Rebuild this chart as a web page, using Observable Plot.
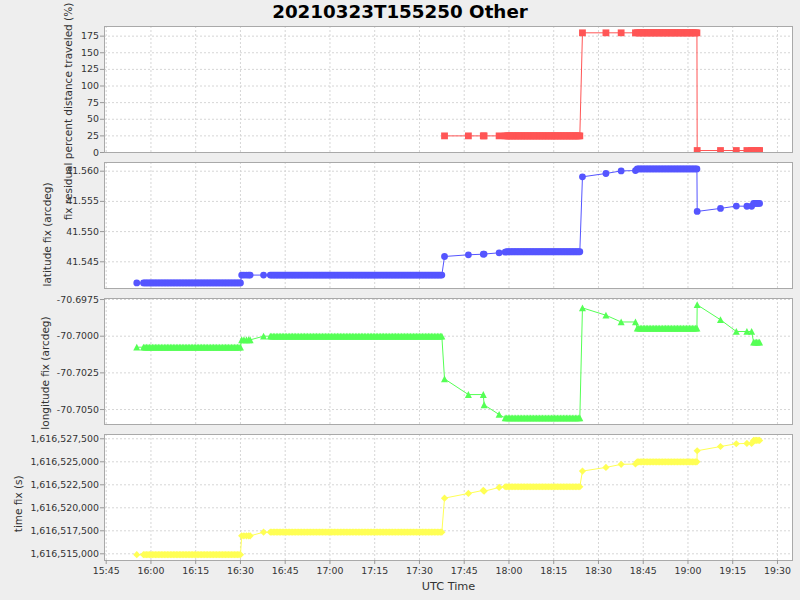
<!DOCTYPE html>
<html><head><meta charset="utf-8">
<script src="https://cdn.jsdelivr.net/npm/d3@7"></script>
<script src="https://cdn.jsdelivr.net/npm/@observablehq/plot@0.6"></script>
<style>
body{margin:0;background:#eeeeee;}
#wrap{position:relative;width:800px;height:600px;background:#eeeeee;overflow:hidden;font-family:"DejaVu Sans";}
#title{position:absolute;left:0;width:800px;top:2px;line-height:20px;text-align:center;font-weight:bold;font-size:18.3px;font-family:"DejaVu Sans";color:#000;}
</style></head><body><div id="wrap"><div id="title">20210323T155250 Other</div></div>
<script>
const day = "2021-03-23";
const times = [
// A
"15:55:15","15:57:30",
"15:58:00","15:58:30","15:59:00","15:59:30","16:00:00","16:00:30","16:01:00","16:01:30","16:02:00","16:02:30",
"16:03:00","16:03:30","16:04:00","16:04:30","16:05:00","16:05:30","16:06:00","16:06:30","16:07:00","16:07:30",
"16:08:00","16:08:30","16:09:00","16:09:30","16:10:00","16:10:30","16:11:00","16:11:30","16:12:00","16:12:30",
"16:13:00","16:13:30","16:14:00","16:14:30","16:15:00","16:15:30","16:16:00","16:16:30","16:17:00","16:17:30",
"16:18:00","16:18:30","16:19:00","16:19:30","16:20:00","16:20:30","16:21:00","16:21:30","16:22:00","16:22:30",
"16:23:00","16:23:30","16:24:00","16:24:30","16:25:00","16:25:30","16:26:00","16:26:30","16:27:00","16:27:30",
"16:28:00","16:28:30","16:29:00","16:29:30","16:30:00",
// B
"16:30:25","16:31:10","16:32:00","16:32:45","16:33:15",
// C
"16:37:45",
"16:40:00","16:40:30","16:41:00","16:41:30","16:42:00","16:42:30","16:43:00","16:43:30","16:44:00","16:44:30",
"16:45:00","16:45:30","16:46:00","16:46:30","16:47:00","16:47:30","16:48:00","16:48:30","16:49:00","16:49:30",
"16:50:00","16:50:30","16:51:00","16:51:30","16:52:00","16:52:30","16:53:00","16:53:30","16:54:00","16:54:30",
"16:55:00","16:55:30","16:56:00","16:56:30","16:57:00","16:57:30","16:58:00","16:58:30","16:59:00","16:59:30",
"17:00:00","17:00:30","17:01:00","17:01:30","17:02:00","17:02:30","17:03:00","17:03:30","17:04:00","17:04:30",
"17:05:00","17:05:30","17:06:00","17:06:30","17:07:00","17:07:30","17:08:00","17:08:30","17:09:00","17:09:30",
"17:10:00","17:10:30","17:11:00","17:11:30","17:12:00","17:12:30","17:13:00","17:13:30","17:14:00","17:14:30",
"17:15:00","17:15:30","17:16:00","17:16:30","17:17:00","17:17:30","17:18:00","17:18:30","17:19:00","17:19:30",
"17:20:00","17:20:30","17:21:00","17:21:30","17:22:00","17:22:30","17:23:00","17:23:30","17:24:00","17:24:30",
"17:25:00","17:25:30","17:26:00","17:26:30","17:27:00","17:27:30","17:28:00","17:28:30","17:29:00","17:29:30",
"17:30:00","17:30:30","17:31:00","17:31:30","17:32:00","17:32:30","17:33:00","17:33:30","17:34:00","17:34:30",
"17:35:00","17:35:30","17:36:00","17:36:30","17:37:00","17:37:30",
// singles 1
"17:38:24","17:46:24","17:51:24","17:51:40","17:56:42",
// D
"17:58:44",
"17:59:15","17:59:45","18:00:15","18:00:45","18:01:15","18:01:45","18:02:15","18:02:45","18:03:15","18:03:45",
"18:04:15","18:04:45","18:05:15","18:05:45","18:06:15","18:06:45","18:07:15","18:07:45","18:08:15","18:08:45",
"18:09:15","18:09:45","18:10:15","18:10:45","18:11:15","18:11:45","18:12:15","18:12:45","18:13:15","18:13:45",
"18:14:15","18:14:45","18:15:15","18:15:45","18:16:15","18:16:45","18:17:15","18:17:45","18:18:15","18:18:45",
"18:19:15","18:19:45","18:20:15","18:20:45","18:21:15","18:21:45","18:22:15","18:22:45","18:23:15","18:23:45",
// singles 2
"18:24:38","18:32:30","18:37:36","18:42:24",
// E
"18:43:00","18:43:30","18:44:00","18:44:30","18:45:00","18:45:30","18:46:00","18:46:30","18:47:00","18:47:30",
"18:48:00","18:48:30","18:49:00","18:49:30","18:50:00","18:50:30","18:51:00","18:51:30","18:52:00","18:52:30",
"18:53:00","18:53:30","18:54:00","18:54:30","18:55:00","18:55:30","18:56:00","18:56:30","18:57:00","18:57:30",
"18:58:00","18:58:30","18:59:00","18:59:30","19:00:00","19:00:30","19:01:00","19:01:30","19:02:00","19:02:30",
"19:03:00",
// singles 3
"19:03:05","19:10:54","19:16:12","19:19:45","19:21:20",
// F
"19:22:00","19:22:30","19:23:00","19:23:30","19:24:00"
];
const N = null;
const pctDistance = [
// A
N,N,
N,N,N,N,N,N,N,N,N,N,
N,N,N,N,N,N,N,N,N,N,
N,N,N,N,N,N,N,N,N,N,
N,N,N,N,N,N,N,N,N,N,
N,N,N,N,N,N,N,N,N,N,
N,N,N,N,N,N,N,N,N,N,
N,N,N,N,N,
// B
N,N,N,N,N,
// C
N,
N,N,N,N,N,N,N,N,N,N,
N,N,N,N,N,N,N,N,N,N,
N,N,N,N,N,N,N,N,N,N,
N,N,N,N,N,N,N,N,N,N,
N,N,N,N,N,N,N,N,N,N,
N,N,N,N,N,N,N,N,N,N,
N,N,N,N,N,N,N,N,N,N,
N,N,N,N,N,N,N,N,N,N,
N,N,N,N,N,N,N,N,N,N,
N,N,N,N,N,N,N,N,N,N,
N,N,N,N,N,N,N,N,N,N,
N,N,N,N,N,N,
// singles 1
25,25,25,25,25,
// D
25,
25,25,25,25,25,25,25,25,25,25,
25,25,25,25,25,25,25,25,25,25,
25,25,25,25,25,25,25,25,25,25,
25,25,25,25,25,25,25,25,25,25,
25,25,25,25,25,25,25,25,25,25,
// singles 2
180,180,180,180,
// E
180,180,180,180,180,180,180,180,180,180,
180,180,180,180,180,180,180,180,180,180,
180,180,180,180,180,180,180,180,180,180,
180,180,180,180,180,180,180,180,180,180,
180,
// singles 3
3,3,3,3,3,
// F
3,3,3,3,3
];
const latitude = [
// A
41.5415,41.5415,
41.5415,41.5415,41.5415,41.5415,41.5415,41.5415,41.5415,41.5415,41.5415,41.5415,
41.5415,41.5415,41.5415,41.5415,41.5415,41.5415,41.5415,41.5415,41.5415,41.5415,
41.5415,41.5415,41.5415,41.5415,41.5415,41.5415,41.5415,41.5415,41.5415,41.5415,
41.5415,41.5415,41.5415,41.5415,41.5415,41.5415,41.5415,41.5415,41.5415,41.5415,
41.5415,41.5415,41.5415,41.5415,41.5415,41.5415,41.5415,41.5415,41.5415,41.5415,
41.5415,41.5415,41.5415,41.5415,41.5415,41.5415,41.5415,41.5415,41.5415,41.5415,
41.5415,41.5415,41.5415,41.5415,41.5415,
// B
41.5428,41.5428,41.5428,41.5428,41.5428,
// C
41.5428,
41.5428,41.5428,41.5428,41.5428,41.5428,41.5428,41.5428,41.5428,41.5428,41.5428,
41.5428,41.5428,41.5428,41.5428,41.5428,41.5428,41.5428,41.5428,41.5428,41.5428,
41.5428,41.5428,41.5428,41.5428,41.5428,41.5428,41.5428,41.5428,41.5428,41.5428,
41.5428,41.5428,41.5428,41.5428,41.5428,41.5428,41.5428,41.5428,41.5428,41.5428,
41.5428,41.5428,41.5428,41.5428,41.5428,41.5428,41.5428,41.5428,41.5428,41.5428,
41.5428,41.5428,41.5428,41.5428,41.5428,41.5428,41.5428,41.5428,41.5428,41.5428,
41.5428,41.5428,41.5428,41.5428,41.5428,41.5428,41.5428,41.5428,41.5428,41.5428,
41.5428,41.5428,41.5428,41.5428,41.5428,41.5428,41.5428,41.5428,41.5428,41.5428,
41.5428,41.5428,41.5428,41.5428,41.5428,41.5428,41.5428,41.5428,41.5428,41.5428,
41.5428,41.5428,41.5428,41.5428,41.5428,41.5428,41.5428,41.5428,41.5428,41.5428,
41.5428,41.5428,41.5428,41.5428,41.5428,41.5428,41.5428,41.5428,41.5428,41.5428,
41.5428,41.5428,41.5428,41.5428,41.5428,41.5428,
// singles 1
41.54588,41.54616,41.54626,41.54628,41.54649,
// D
41.5466,
41.54666,41.54666,41.54666,41.54666,41.54666,41.54666,41.54666,41.54666,41.54666,41.54666,
41.54666,41.54666,41.54666,41.54666,41.54666,41.54666,41.54666,41.54666,41.54666,41.54666,
41.54666,41.54666,41.54666,41.54666,41.54666,41.54666,41.54666,41.54666,41.54666,41.54666,
41.54666,41.54666,41.54666,41.54666,41.54666,41.54666,41.54666,41.54666,41.54666,41.54666,
41.54666,41.54666,41.54666,41.54666,41.54666,41.54666,41.54666,41.54666,41.54666,41.54666,
// singles 2
41.55907,41.55962,41.56005,41.5601,
// E
41.56038,41.56038,41.56038,41.56038,41.56038,41.56038,41.56038,41.56038,41.56038,41.56038,
41.56038,41.56038,41.56038,41.56038,41.56038,41.56038,41.56038,41.56038,41.56038,41.56038,
41.56038,41.56038,41.56038,41.56038,41.56038,41.56038,41.56038,41.56038,41.56038,41.56038,
41.56038,41.56038,41.56038,41.56038,41.56038,41.56038,41.56038,41.56038,41.56038,41.56038,
41.56038,
// singles 3
41.55334,41.55384,41.55422,41.5542,41.5542,
// F
41.55467,41.55467,41.55467,41.55467,41.55467
];
const longitude = [
// A
-70.70075,-70.70075,
-70.70075,-70.70075,-70.70075,-70.70075,-70.70075,-70.70075,-70.70075,-70.70075,-70.70075,-70.70075,
-70.70075,-70.70075,-70.70075,-70.70075,-70.70075,-70.70075,-70.70075,-70.70075,-70.70075,-70.70075,
-70.70075,-70.70075,-70.70075,-70.70075,-70.70075,-70.70075,-70.70075,-70.70075,-70.70075,-70.70075,
-70.70075,-70.70075,-70.70075,-70.70075,-70.70075,-70.70075,-70.70075,-70.70075,-70.70075,-70.70075,
-70.70075,-70.70075,-70.70075,-70.70075,-70.70075,-70.70075,-70.70075,-70.70075,-70.70075,-70.70075,
-70.70075,-70.70075,-70.70075,-70.70075,-70.70075,-70.70075,-70.70075,-70.70075,-70.70075,-70.70075,
-70.70075,-70.70075,-70.70075,-70.70075,-70.70075,
// B
-70.70025,-70.70025,-70.70025,-70.70025,-70.70025,
// C
-70.7,
-70.7,-70.7,-70.7,-70.7,-70.7,-70.7,-70.7,-70.7,-70.7,-70.7,
-70.7,-70.7,-70.7,-70.7,-70.7,-70.7,-70.7,-70.7,-70.7,-70.7,
-70.7,-70.7,-70.7,-70.7,-70.7,-70.7,-70.7,-70.7,-70.7,-70.7,
-70.7,-70.7,-70.7,-70.7,-70.7,-70.7,-70.7,-70.7,-70.7,-70.7,
-70.7,-70.7,-70.7,-70.7,-70.7,-70.7,-70.7,-70.7,-70.7,-70.7,
-70.7,-70.7,-70.7,-70.7,-70.7,-70.7,-70.7,-70.7,-70.7,-70.7,
-70.7,-70.7,-70.7,-70.7,-70.7,-70.7,-70.7,-70.7,-70.7,-70.7,
-70.7,-70.7,-70.7,-70.7,-70.7,-70.7,-70.7,-70.7,-70.7,-70.7,
-70.7,-70.7,-70.7,-70.7,-70.7,-70.7,-70.7,-70.7,-70.7,-70.7,
-70.7,-70.7,-70.7,-70.7,-70.7,-70.7,-70.7,-70.7,-70.7,-70.7,
-70.7,-70.7,-70.7,-70.7,-70.7,-70.7,-70.7,-70.7,-70.7,-70.7,
-70.7,-70.7,-70.7,-70.7,-70.7,-70.7,
// singles 1
-70.70291,-70.70398,-70.70398,-70.70468,-70.70534,
// D
-70.70557,
-70.70557,-70.70557,-70.70557,-70.70557,-70.70557,-70.70557,-70.70557,-70.70557,-70.70557,-70.70557,
-70.70557,-70.70557,-70.70557,-70.70557,-70.70557,-70.70557,-70.70557,-70.70557,-70.70557,-70.70557,
-70.70557,-70.70557,-70.70557,-70.70557,-70.70557,-70.70557,-70.70557,-70.70557,-70.70557,-70.70557,
-70.70557,-70.70557,-70.70557,-70.70557,-70.70557,-70.70557,-70.70557,-70.70557,-70.70557,-70.70557,
-70.70557,-70.70557,-70.70557,-70.70557,-70.70557,-70.70557,-70.70557,-70.70557,-70.70557,-70.70557,
// singles 2
-70.69807,-70.69857,-70.69903,-70.69903,
// E
-70.69945,-70.69945,-70.69945,-70.69945,-70.69945,-70.69945,-70.69945,-70.69945,-70.69945,-70.69945,
-70.69945,-70.69945,-70.69945,-70.69945,-70.69945,-70.69945,-70.69945,-70.69945,-70.69945,-70.69945,
-70.69945,-70.69945,-70.69945,-70.69945,-70.69945,-70.69945,-70.69945,-70.69945,-70.69945,-70.69945,
-70.69945,-70.69945,-70.69945,-70.69945,-70.69945,-70.69945,-70.69945,-70.69945,-70.69945,-70.69945,
-70.69945,
// singles 3
-70.69786,-70.69888,-70.69968,-70.69968,-70.69968,
// F
-70.70041,-70.70041,-70.70041,-70.70041,-70.70041
];
const timeFix = [
// A
1616514900,1616514900,
1616514900,1616514900,1616514900,1616514900,1616514900,1616514900,1616514900,1616514900,1616514900,1616514900,
1616514900,1616514900,1616514900,1616514900,1616514900,1616514900,1616514900,1616514900,1616514900,1616514900,
1616514900,1616514900,1616514900,1616514900,1616514900,1616514900,1616514900,1616514900,1616514900,1616514900,
1616514900,1616514900,1616514900,1616514900,1616514900,1616514900,1616514900,1616514900,1616514900,1616514900,
1616514900,1616514900,1616514900,1616514900,1616514900,1616514900,1616514900,1616514900,1616514900,1616514900,
1616514900,1616514900,1616514900,1616514900,1616514900,1616514900,1616514900,1616514900,1616514900,1616514900,
1616514900,1616514900,1616514900,1616514900,1616514900,
// B
1616516950,1616516950,1616516950,1616516950,1616516950,
// C
1616517350,
1616517350,1616517350,1616517350,1616517350,1616517350,1616517350,1616517350,1616517350,1616517350,1616517350,
1616517350,1616517350,1616517350,1616517350,1616517350,1616517350,1616517350,1616517350,1616517350,1616517350,
1616517350,1616517350,1616517350,1616517350,1616517350,1616517350,1616517350,1616517350,1616517350,1616517350,
1616517350,1616517350,1616517350,1616517350,1616517350,1616517350,1616517350,1616517350,1616517350,1616517350,
1616517350,1616517350,1616517350,1616517350,1616517350,1616517350,1616517350,1616517350,1616517350,1616517350,
1616517350,1616517350,1616517350,1616517350,1616517350,1616517350,1616517350,1616517350,1616517350,1616517350,
1616517350,1616517350,1616517350,1616517350,1616517350,1616517350,1616517350,1616517350,1616517350,1616517350,
1616517350,1616517350,1616517350,1616517350,1616517350,1616517350,1616517350,1616517350,1616517350,1616517350,
1616517350,1616517350,1616517350,1616517350,1616517350,1616517350,1616517350,1616517350,1616517350,1616517350,
1616517350,1616517350,1616517350,1616517350,1616517350,1616517350,1616517350,1616517350,1616517350,1616517350,
1616517350,1616517350,1616517350,1616517350,1616517350,1616517350,1616517350,1616517350,1616517350,1616517350,
1616517350,1616517350,1616517350,1616517350,1616517350,1616517350,
// singles 1
1616521050,1616521560,1616521900,1616521800,1616522210,
// D
1616522290,
1616522290,1616522290,1616522290,1616522290,1616522290,1616522290,1616522290,1616522290,1616522290,1616522290,
1616522290,1616522290,1616522290,1616522290,1616522290,1616522290,1616522290,1616522290,1616522290,1616522290,
1616522290,1616522290,1616522290,1616522290,1616522290,1616522290,1616522290,1616522290,1616522290,1616522290,
1616522290,1616522290,1616522290,1616522290,1616522290,1616522290,1616522290,1616522290,1616522290,1616522290,
1616522290,1616522290,1616522290,1616522290,1616522290,1616522290,1616522290,1616522290,1616522290,1616522290,
// singles 2
1616523990,1616524390,1616524720,1616524760,
// E
1616525000,1616525000,1616525000,1616525000,1616525000,1616525000,1616525000,1616525000,1616525000,1616525000,
1616525000,1616525000,1616525000,1616525000,1616525000,1616525000,1616525000,1616525000,1616525000,1616525000,
1616525000,1616525000,1616525000,1616525000,1616525000,1616525000,1616525000,1616525000,1616525000,1616525000,
1616525000,1616525000,1616525000,1616525000,1616525000,1616525000,1616525000,1616525000,1616525000,1616525000,
1616525000,
// singles 3
1616526200,1616526660,1616526960,1616527000,1616527000,
// F
1616527320,1616527320,1616527320,1616527320,1616527320
];
const xTickLabels = ["15:45","16:00","16:15","16:30","16:45","17:00","17:15","17:30","17:45","18:00","18:15","18:30","18:45","19:00","19:15","19:30"];
const pctTicks = [0,25,50,75,100,125,150,175];
const latTicks = [41.545,41.550,41.555,41.560];
const lonTicks = [-70.6975,-70.7000,-70.7025,-70.7050];
const timeFixTicks = [1616515000,1616517500,1616520000,1616522500,1616525000,1616527500];

const parse = d3.utcParse("%Y-%m-%d %H:%M:%S");
const T = times.map(t => parse(day + " " + t));
const xTicks = xTickLabels.map(t => parse(day + " " + t + ":00"));
const xDomain = [parse(day + " 15:44:26"), parse(day + " 19:35:02")];

const symSquare = {draw(c){ c.rect(-3.4,-3.4,6.8,6.8); }};
const symCircle = {draw(c){ c.moveTo(3.4,0); c.arc(0,0,3.4,0,2*Math.PI); c.closePath(); }};
const symTriangle = {draw(c){ c.moveTo(0,-3.5); c.lineTo(3.5,3.3); c.lineTo(-3.5,3.3); c.closePath(); }};
const symDiamond = {draw(c){ c.moveTo(0,-3.6); c.lineTo(3.6,0); c.lineTo(0,3.6); c.lineTo(-3.6,0); c.closePath(); }};

const wrap = document.getElementById("wrap");
const gridStyle = {stroke:"#d6d6d6", strokeOpacity:1, strokeWidth:1, strokeDasharray:"2,2"};
const textColor = "#333";

function panel(vals, o) {
  const n = Math.min(T.length, vals.length);
  const data = [];
  for (let i = 0; i < n; i++) if (vals[i] != null) data.push({t: T[i], v: vals[i]});
  const marks = [
    Plot.frame({fill:"white"}),
    Plot.gridX(xTicks, gridStyle),
    Plot.gridY(o.ticks, gridStyle),
    Plot.line(data, {x:"t", y:"v", stroke:o.color, strokeWidth:1, clip:true}),
    Plot.dot(data, {x:"t", y:"v", symbol:o.symbol, fill:o.color, stroke:"none", clip:true}),
    Plot.frame({stroke:"#a9a9a9"}),
    Plot.axisY(o.ticks, {tickSize:4, tickPadding:1.5, tickFormat:o.fmt, stroke:"#999", fill:textColor, label:null, fontSize:9.4}),
    Plot.text([o.label], {text:d => d, frameAnchor:"left", dx:o.ldx, dy:o.ldy, rotate:-90, fill:textColor, fontSize:10.5, textAnchor:"middle", lineAnchor:"middle"})
  ];
  if (o.xaxis) {
    marks.push(
      Plot.axisX(xTicks, {tickSize:4, tickPadding:2.5, tickFormat:d3.utcFormat("%H:%M"), stroke:"#999", fill:textColor, label:null, fontSize:9.4}),
      Plot.text(["UTC Time"], {text:d => d, frameAnchor:"bottom", dy:25.7, fill:textColor, fontSize:11.3, textAnchor:"middle", lineAnchor:"middle"})
    );
  }
  const svg = Plot.plot({
    width: 800,
    height: 126 + (o.xaxis ? 40 : 0),
    marginLeft: 104, marginRight: 8, marginTop: 0, marginBottom: o.xaxis ? 40 : 0,
    style: {background:"transparent", overflow:"visible", fontFamily:"DejaVu Sans", fontSize:"9.4px"},
    x: {type:"utc", domain:xDomain, axis:null, label:null},
    y: {domain:o.domain, axis:null, label:null},
    marks
  });
  svg.style.position = "absolute";
  svg.style.left = "0px";
  svg.style.top = o.top + "px";
  wrap.appendChild(svg);
}

panel(pctDistance, {top:26, domain:[0,189.5], ticks:pctTicks, fmt:d => d.toFixed(0), color:"#FF5555", symbol:symSquare,
  label:"fix residual percent distance traveled (%)", ldx:-35.7, ldy:22});
panel(latitude, {top:162, domain:[41.54058,41.56144], ticks:latTicks, fmt:d => d.toFixed(3), color:"#5555FF", symbol:symCircle,
  label:"latitude fix (arcdeg)", ldx:-57.3, ldy:9});
panel(longitude, {top:298, domain:[-70.70602,-70.69743], ticks:lonTicks, fmt:d => d.toFixed(4), color:"#55FF55", symbol:symTriangle,
  label:"longitude fix (arcdeg)", ldx:-59, ldy:11.5});
panel(timeFix, {top:434, domain:[1616514272,1616527967], ticks:timeFixTicks, fmt:d => d.toLocaleString("en-US"), color:"#FFFF55", symbol:symDiamond,
  label:"time fix (s)", ldx:-85.7, ldy:6.3, xaxis:true});
</script></body></html>
